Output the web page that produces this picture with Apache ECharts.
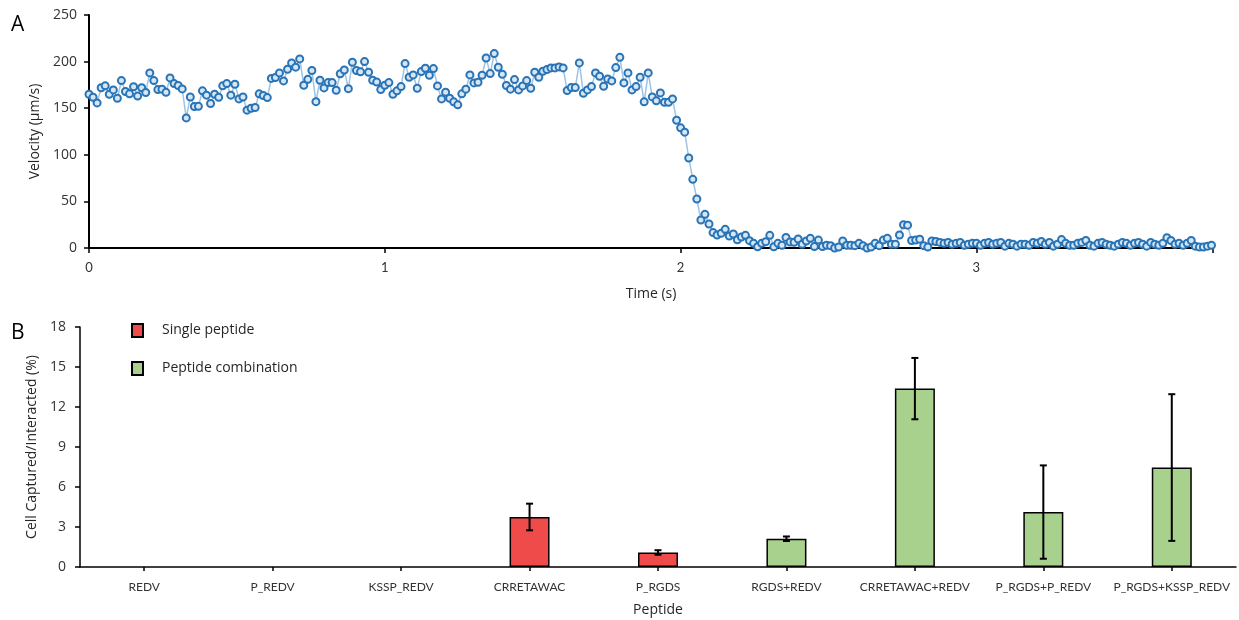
<!DOCTYPE html>
<html>
<head>
<meta charset="utf-8">
<script src="https://cdn.jsdelivr.net/npm/echarts@6/dist/echarts.min.js"></script>
<style>html,body{margin:0;padding:0;background:#fff}#c{width:1239px;height:620px}</style>
</head>
<body>
<div id="c"></div>
<script>
// ---- Panel A data: velocity (µm/s) sampled every FRAME_DT seconds ----
const FRAME_DT = 0.0137;
const velocity = [
165,161.8,155.7,172,174,165,169.6,160.7,179.6,167.9,
165.4,173,163,172,166.8,187.9,179.6,170,170.4,167,
182.5,176.4,174.3,170.7,139.6,162,151.8,152,168.6,164,
155,165,161.8,174,176.4,164,175.7,160,162,147.9,
150,150.7,165.4,163.6,161.4,182,182.9,187.9,179.3,191.8,
198.6,194,202.9,174.6,181,190.4,157,180,171.8,177.5,
177.5,169.3,187,191,171,199.3,190.4,189,200,188.6,
180,178,170,174.6,177.5,
165,168.6,173.2,197.9,183.2,185.7,171.4,189.3,192.9,185.4,
192.5,173.9,160,167.1,160.7,156.8,153.6,165.4,170.4,185.7,
177.1,177.9,185.4,203.9,187.1,208.6,193.9,186.4,174.3,170.4,
180.7,169.6,173.9,179.6,171.4,188.6,183.2,189.6,191.4,193.2,
193.2,194.3,193.2,168.9,172.1,172.1,198.6,166,169.6,173.2,
187.9,184.3,173.6,181.4,179.3,193.6,204.6,177.1,187.9,169.6,
173.2,183.2,156.8,187.9,162.1,157.9,166.4,156.4,156.4,160,
137.1,128.9,124.3,
96.6,73.7,52.6,30,36.1,25.8,16.5,14,15.7,20,
12.9,15,8.9,11.8,13.6,7.9,5,1.4,5,6.8,
13.6,1.4,5,2.9,11.4,6.4,6.1,9.7,
4,7.5,10.4,1.5,8.5,1.5,3,2.5,0,1,
7.5,3,3,2.5,5,2.5,0,1,5,2.5,
8.5,10.4,4,4,14,25,24.5,8,8.5,9.5,
2.5,1,7.5,7,6,5,6,4,5,6,
3,4,5,5,3,5,6,4,5,6,
2,
5,4,2,4,4,3,6,5,7,4,
6,2,4,9,5,3,3,5,6,8,
3,2,5,6,4,3,2,4,6,5,
3,5,6,4,2,6,4,3,5,11,
8,4,5,3,5,8,2,1,1,2,
3
];
const timeTicksA = [0, 1, 2, 3];

// ---- Panel B data ----
const peptides = ['REDV','P_REDV','KSSP_REDV','CRRETAWAC','P_RGDS','RGDS+REDV','CRRETAWAC+REDV','P_RGDS+P_REDV','P_RGDS+KSSP_REDV'];
const captured = [0, 0, 0, 3.75, 1.09, 2.12, 13.38, 4.12, 7.46];
const capturedErr = [0, 0, 0, 1.0, 0.17, 0.17, 2.3, 3.5, 5.5];
const isCombination = [false, false, false, false, false, true, true, true, true];
const groupNames = ['Single peptide', 'Peptide combination'];

const RED = '#EF4B4B', GREEN = '#A9D18E';

const lineData = velocity.map((v, i) => [i * FRAME_DT, v]);
// zero values are drawn as no visible bar (as in the reference)
const singleData = captured.map((v, i) => (isCombination[i] || v === 0) ? '-' : v);
const comboData = captured.map((v, i) => (isCombination[i] && v !== 0) ? v : '-');
const errData = [];
captured.forEach((v, i) => { if (capturedErr[i] > 0) errData.push([i, v - capturedErr[i], v + capturedErr[i]]); });

const chart = echarts.init(document.getElementById('c'), null, {renderer: 'canvas'});
const sans = 'Open Sans';
const small = 'Lato';

chart.setOption({
  animation: false,
  backgroundColor: '#fff',
  graphic: [
    {type: 'text', left: 11, top: 15, style: {text: 'A', font: '21px ' + sans, fill: '#000'}},
    {type: 'text', left: 11, top: 323, style: {text: 'B', font: '21px ' + sans, fill: '#000'}}
  ],
  legend: {
    orient: 'vertical', left: 126, top: 318, itemWidth: 11, itemHeight: 13, itemGap: 23,
    icon: 'rect', data: groupNames, selectedMode: false,
    textStyle: {fontFamily: sans, fontSize: 14, color: '#262626', padding: [0, 0, 0, 14]}
  },
  grid: [
    {left: 89, right: 26, top: 15, bottom: 372, containLabel: false},
    {left: 80, right: 3, top: 327, bottom: 53, containLabel: false}
  ],
  xAxis: [
    {
      type: 'value', gridIndex: 0, min: 0, max: 3.8, interval: 1,
      name: 'Time (s)', nameLocation: 'middle', nameGap: 39,
      nameTextStyle: {fontFamily: sans, fontSize: 14, color: '#262626'},
      axisLine: {show: true, onZero: false, lineStyle: {color: '#000', width: 2}},
      axisTick: {show: true, length: 5, lineStyle: {color: '#000', width: 1.5}},
      axisLabel: {fontFamily: small, fontSize: 13, color: '#333', margin: 13,
        formatter: v => timeTicksA.includes(v) ? String(v) : ''},
      splitLine: {show: false}
    },
    {
      type: 'category', gridIndex: 1, data: peptides,
      name: 'Peptide', nameLocation: 'middle', nameGap: 36,
      nameTextStyle: {fontFamily: sans, fontSize: 14, color: '#262626'},
      axisLine: {show: true, lineStyle: {color: '#000', width: 1.5}},
      axisTick: {show: true, alignWithLabel: true, length: 4, lineStyle: {color: '#000', width: 1.5}},
      axisLabel: {fontFamily: small, fontSize: 12, color: '#333', margin: 14, interval: 0}
    }
  ],
  yAxis: [
    {
      type: 'value', gridIndex: 0, min: 0, max: 250, interval: 50,
      name: 'Velocity (µm/s)', nameLocation: 'middle', nameGap: 46, nameRotate: 90,
      nameTextStyle: {fontFamily: sans, fontSize: 14, color: '#262626'},
      axisLine: {show: true, lineStyle: {color: '#000', width: 2}},
      axisTick: {show: true, length: 5, lineStyle: {color: '#000', width: 1.5}},
      axisLabel: {fontFamily: sans, fontSize: 14, color: '#333', margin: 12},
      splitLine: {show: false}
    },
    {
      type: 'value', gridIndex: 1, min: 0, max: 18, interval: 3,
      name: 'Cell Captured/Interacted (%)', nameLocation: 'middle', nameGap: 40, nameRotate: 90,
      nameTextStyle: {fontFamily: sans, fontSize: 14, color: '#262626'},
      axisLine: {show: true, lineStyle: {color: '#000', width: 1.5}},
      axisTick: {show: true, length: 5, lineStyle: {color: '#000', width: 1.5}},
      axisLabel: {fontFamily: sans, fontSize: 14, color: '#333', margin: 14},
      splitLine: {show: false}
    }
  ],
  series: [
    {
      type: 'line', xAxisIndex: 0, yAxisIndex: 0, data: lineData,
      symbol: 'circle', symbolSize: 7, showAllSymbol: true,
      itemStyle: {color: '#d6e6f5', borderColor: '#2874B6', borderWidth: 2},
      lineStyle: {color: '#9DC3E6', width: 1.5},
      emphasis: {disabled: true}, silent: true
    },
    {
      name: groupNames[0], type: 'bar', xAxisIndex: 1, yAxisIndex: 1, data: singleData,
      barWidth: 40, barGap: '-100%',
      itemStyle: {color: RED, borderColor: '#000', borderWidth: 1.5}, silent: true
    },
    {
      name: groupNames[1], type: 'bar', xAxisIndex: 1, yAxisIndex: 1, data: comboData,
      barWidth: 40, barGap: '-100%',
      itemStyle: {color: GREEN, borderColor: '#000', borderWidth: 1.5}, silent: true
    },
    {
      type: 'custom', xAxisIndex: 1, yAxisIndex: 1, data: errData, silent: true, z: 10,
      renderItem: function (params, api) {
        const x = api.value(0);
        const lo = api.coord([x, api.value(1)]);
        const hi = api.coord([x, api.value(2)]);
        const cap = 3.5;
        const st = {stroke: '#000', lineWidth: 2};
        return {type: 'group', children: [
          {type: 'line', shape: {x1: lo[0], y1: lo[1], x2: hi[0], y2: hi[1]}, style: st},
          {type: 'line', shape: {x1: lo[0] - cap, y1: lo[1], x2: lo[0] + cap, y2: lo[1]}, style: st},
          {type: 'line', shape: {x1: hi[0] - cap, y1: hi[1], x2: hi[0] + cap, y2: hi[1]}, style: st}
        ]};
      }
    }
  ]
});
</script>
</body>
</html>
